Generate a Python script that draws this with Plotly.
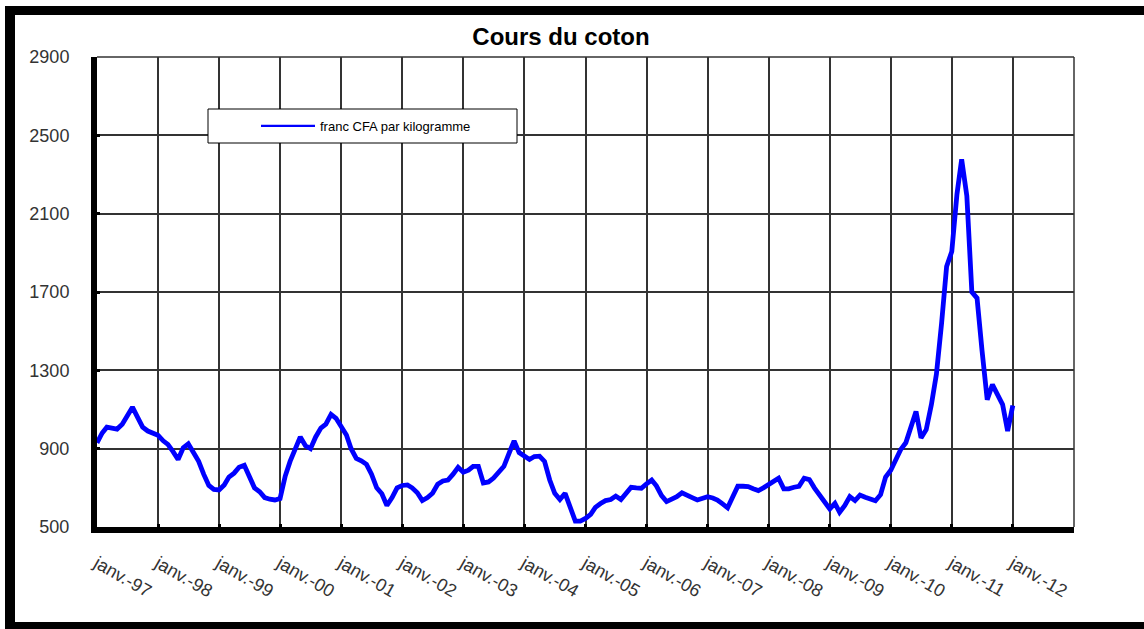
import plotly.graph_objects as go
import pandas as pd

# ---- data ----
start_month = "1997-01-01"
price_fcfa_kg = [
    930, 980, 1010, 1005, 1000, 1025, 1070, 1112, 1060, 1010, 990, 978,      # 1997
    968, 940, 922, 885, 845, 905, 925, 880, 835, 770, 712, 692,              # 1998
    689, 715, 755, 775, 805, 815, 760, 700, 680, 650, 642, 638,              # 1999
    645, 760, 835, 905, 960, 915, 900, 960, 1005, 1025, 1075, 1055,          # 2000
    1010, 970, 900, 850, 838, 820, 770, 700, 670, 610, 650, 700,             # 2001
    712, 715, 700, 675, 635, 650, 672, 718, 735, 740, 770, 805,              # 2002
    780, 790, 810, 810, 725, 730, 750, 780, 810, 875, 940, 880,              # 2003
    860, 845, 860, 862, 835, 740, 672, 640, 672, 600, 530, 530,              # 2004
    544, 565, 600, 620, 635, 640, 658, 640, 670, 703, 700, 698,              # 2005
    720, 740, 710, 660, 630, 642, 655, 675, 665, 650, 638, 645,              # 2006
    655, 648, 638, 618, 598, 655, 708, 708, 706, 695, 686, 700,              # 2007
    715, 735, 749, 695, 695, 703, 708, 749, 742, 700, 663, 620,              # 2008
    592, 621, 575, 610, 655, 635, 663, 652, 640, 634, 665, 755,              # 2009
    790, 845, 895, 930, 1014, 1090, 955, 997, 1125, 1280, 1540, 1830,        # 2010
    1907, 2200, 2378, 2190, 1700, 1669, 1400, 1150, 1227, 1170, 1125, 990,   # 2011
    1120,                                                                    # 2012
]
series_name = "franc CFA par kilogramme"
chart_title = "Cours du coton"
year_ticks = list(range(1997, 2014))
tick_labels = ["janv.-%02d" % (y % 100) for y in range(1997, 2013)] + [""]
y_ticks = [500, 900, 1300, 1700, 2100, 2500, 2900]

months = pd.date_range(start_month, periods=len(price_fcfa_kg), freq="MS")

# ---- layout geometry (pixels) ----
W, H = 1144, 629
L, R, T, B = 97, 1074, 57, 527


def px(x):
    return (x - L) / (R - L)


def py(y):
    return (B - y) / (B - T)


fig = go.Figure()
fig.add_trace(go.Scatter(
    x=months, y=price_fcfa_kg, mode="lines", name=series_name,
    line=dict(color="#0000ff", width=4.8),
    showlegend=False, legendgroup="s",
))
# legend entry drawn with the thinner sample line of the original
fig.add_trace(go.Scatter(
    x=[None], y=[None], mode="lines", name=series_name,
    line=dict(color="#0000ff", width=2.2),
    showlegend=True, legendgroup="s", hoverinfo="skip",
))

font_fam = "Liberation Sans, Arial, sans-serif"

shapes = []
# outer black frame
for (x0, y0, x1, y1) in [(5, 6, 1144, 15), (5, 6, 15, 629), (5, 622, 1144, 629)]:
    shapes.append(dict(type="rect", xref="paper", yref="paper",
                       x0=px(x0), x1=px(x1), y0=py(y1), y1=py(y0),
                       fillcolor="black", line=dict(width=0), layer="above"))
# top and right grid borders
shapes.append(dict(type="line", xref="paper", yref="paper", x0=0, x1=1, y0=1, y1=1,
                   line=dict(color="#333", width=1.5), layer="below"))
shapes.append(dict(type="line", xref="paper", yref="paper", x0=1, x1=1, y0=0, y1=1,
                   line=dict(color="#333", width=1.5), layer="below"))
# legend box
shapes.append(dict(type="rect", xref="paper", yref="paper",
                   x0=px(208), x1=px(517), y0=py(143), y1=py(109),
                   fillcolor="white", line=dict(color="black", width=1), layer="above"))

fig.update_layout(
    width=W, height=H,
    margin=dict(l=L, r=W - R, t=T, b=H - B),
    paper_bgcolor="white", plot_bgcolor="white",
    title=dict(text="<b>%s</b>" % chart_title, x=561 / W, xref="container",
               xanchor="center", y=1 - 37 / H, yref="container", yanchor="middle",
               font=dict(family=font_fam, size=24, color="black")),
    showlegend=True,
    legend=dict(x=px(256), y=py(126), xanchor="left", yanchor="middle",
                bgcolor="rgba(0,0,0,0)", borderwidth=0, itemwidth=54,
                font=dict(family=font_fam, size=13, color="black")),
    shapes=shapes,
    xaxis=dict(
        type="date", range=["1997-01-01", "2013-01-01"],
        tickvals=["%d-01-01" % y for y in year_ticks], ticktext=tick_labels,
        tickangle=30, tickfont=dict(family=font_fam, size=18, color="#333"),
        showgrid=True, gridcolor="#333", gridwidth=1.5,
        showline=True, linecolor="black", linewidth=6,
        ticks="inside", ticklen=3, tickwidth=3, tickcolor="black",
        ticklabelstandoff=13, zeroline=False,
    ),
    yaxis=dict(
        range=[500, 2900], tickvals=y_ticks,
        tickfont=dict(family=font_fam, size=18, color="#333"),
        showgrid=True, gridcolor="#333", gridwidth=1.5,
        showline=True, linecolor="black", linewidth=6,
        ticks="inside", ticklen=3, tickwidth=3, tickcolor="black",
        ticklabelstandoff=18, zeroline=False,
    ),
)

fig.write_html("out.html", config={"displayModeBar": False},
               post_script="document.body.style.margin='0';")
